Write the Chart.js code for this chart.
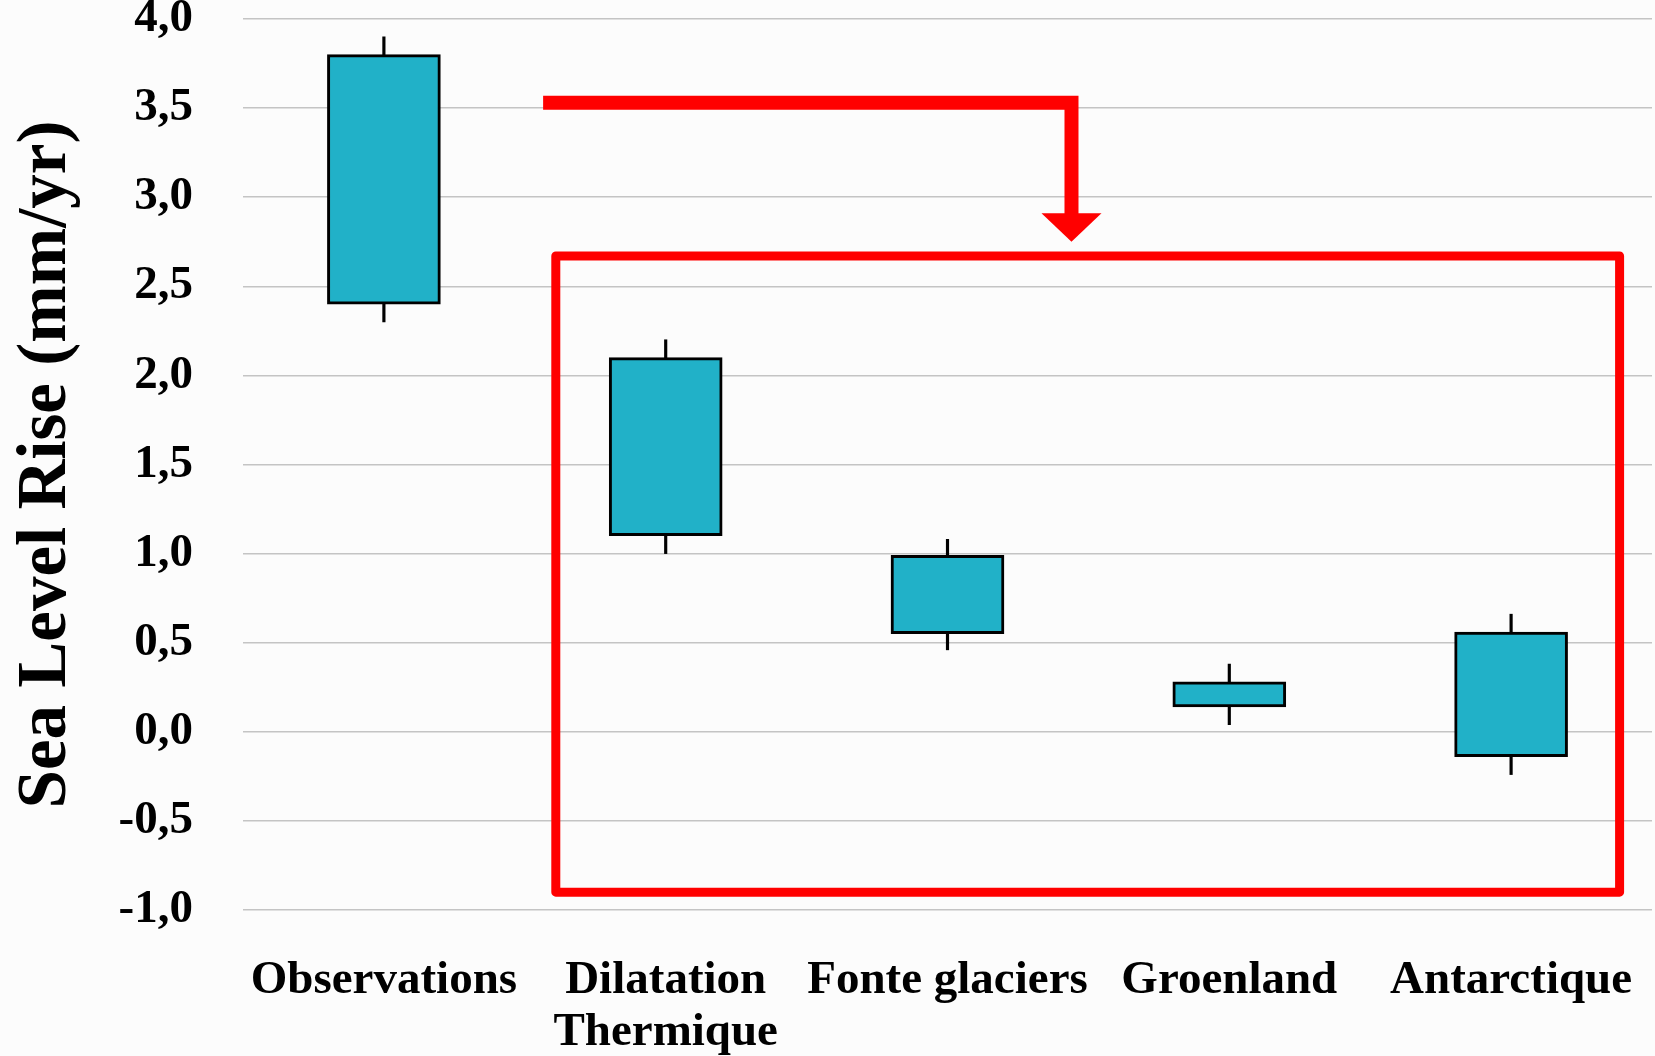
<!DOCTYPE html>
<html>
<head>
<meta charset="utf-8">
<script src="https://cdn.jsdelivr.net/npm/chart.js@4"></script>
<style>
  html, body { margin: 0; padding: 0; background: #fcfcfc; }
  #wrap { width: 1655px; height: 1056px; }
</style>
</head>
<body>
<div id="wrap"><canvas id="slrChart" width="1655" height="1056"></canvas></div>
<script>
const categories = ["Observations", ["Dilatation", "Thermique"], "Fonte glaciers", "Groenland", "Antarctique"]
const boxLow      = [2.40, 1.10, 0.55, 0.14, -0.14]
const boxHigh     = [3.80, 2.10, 0.99, 0.28, 0.56]
const whiskerLow  = [2.30, 1.00, 0.46, 0.04, -0.24]
const whiskerHigh = [3.90, 2.20, 1.08, 0.38, 0.66]

const serif = "'Liberation Serif', 'DejaVu Serif', serif"

// red box + arrow drawn over the plot, placed through the scales
const highlight = {
  id: "highlight",
  afterDatasetsDraw(chart) {
    const { ctx, scales: { x, y } } = chart
    const step = x.getPixelForValue(1) - x.getPixelForValue(0)
    const px = i => x.getPixelForValue(0) + i * step

    ctx.save()
    ctx.strokeStyle = "#ff0000"
    ctx.fillStyle = "#ff0000"
    ctx.lineJoin = "round"

    // box
    ctx.lineWidth = 9
    ctx.strokeRect(px(0.61), y.getPixelForValue(2.67), px(4.385) - px(0.61), y.getPixelForValue(-0.9) - y.getPixelForValue(2.67))

    // elbow arrow
    ctx.lineJoin = "miter"
    ctx.lineWidth = 14
    ctx.beginPath()
    ctx.moveTo(px(0.565), y.getPixelForValue(3.53))
    ctx.lineTo(px(2.44), y.getPixelForValue(3.53))
    ctx.lineTo(px(2.44), y.getPixelForValue(2.9))
    ctx.stroke()

    ctx.beginPath()
    ctx.moveTo(px(2.44) - 30, y.getPixelForValue(2.91))
    ctx.lineTo(px(2.44) + 30, y.getPixelForValue(2.91))
    ctx.lineTo(px(2.44), y.getPixelForValue(2.75))
    ctx.closePath()
    ctx.fill()
    ctx.restore()
  }
}

const boxes = categories.map((c, i) => [boxLow[i], boxHigh[i]])
const whiskers = categories.map((c, i) => [whiskerLow[i], whiskerHigh[i]])

new Chart(document.getElementById("slrChart"), {
  type: "bar",
  data: {
    labels: categories,
    datasets: [{
      label: "box",
      data: boxes,
      backgroundColor: "#21b1c8",
      borderColor: "#000000",
      borderWidth: 3,
      borderSkipped: false,
      barThickness: 113,
      grouped: false,
      order: 0
    }, {
      label: "range",
      data: whiskers,
      backgroundColor: "#000000",
      borderWidth: 0,
      barThickness: 2.5,
      grouped: false,
      order: 1
    }]
  },
  options: {
    responsive: false,
    animation: false,
    devicePixelRatio: 1,
    layout: { padding: { top: 19, right: 3, left: 0, bottom: 0 } },
    plugins: {
      legend: { display: false },
      tooltip: { enabled: false }
    },
    scales: {
      x: {
        grid: { display: false },
        border: { display: false },
        ticks: {
          color: "#000000",
          font: { family: serif, size: 47, weight: "bold", lineHeight: 1.1 },
          padding: 37,
          maxRotation: 0,
          autoSkip: false
        },
        afterFit(scale) {
          scale.height = 146
          scale.paddingLeft = 0
          scale.paddingRight = 0
        }
      },
      y: {
        min: -1,
        max: 4,
        grid: { color: "#c4c4c4", lineWidth: 1.5, drawTicks: false },
        border: { display: false },
        ticks: {
          stepSize: 0.5,
          color: "#000000",
          padding: 50,
          font: { family: serif, size: 47, weight: "bold" },
          callback: v => v.toFixed(1).replace(".", ",")
        },
        title: {
          display: true,
          text: "Sea Level Rise (mm/yr)",
          color: "#000000",
          font: { family: serif, size: 69, weight: "bold" },
          padding: { top: 6, bottom: 0 }
        },
        afterFit(scale) {
          scale.width = 243
          scale.paddingTop = 0
          scale.paddingBottom = 0
        }
      }
    }
  },
  plugins: [highlight]
})
</script>
</body>
</html>
